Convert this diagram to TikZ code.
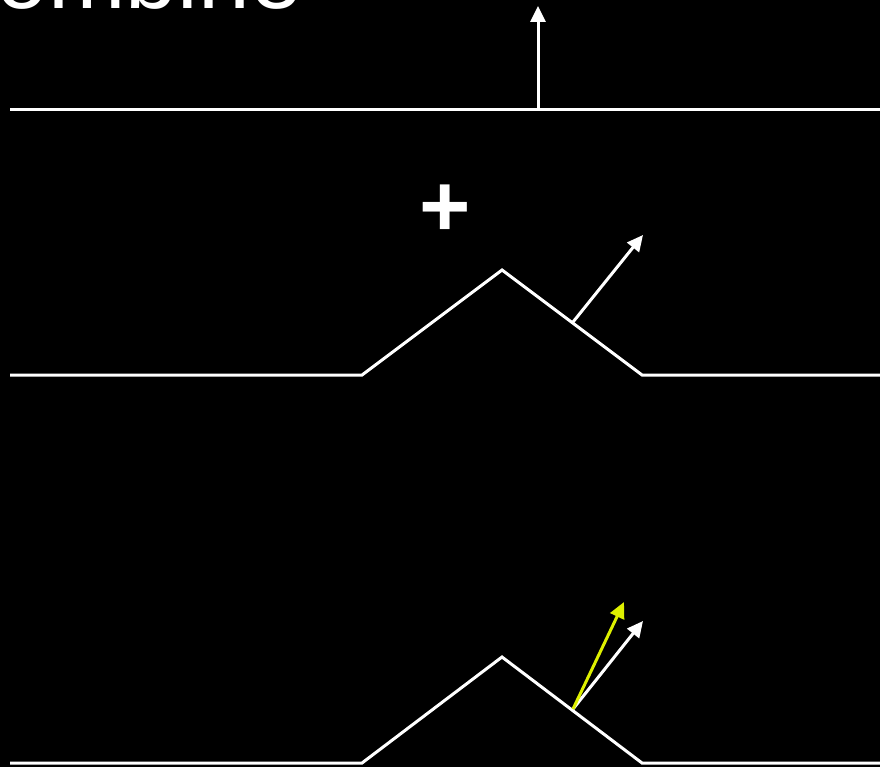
\documentclass[tikz,border=0pt]{standalone}
\usepackage{fontspec}
\setmainfont{Liberation Sans}
\usetikzlibrary{arrows.meta}
\definecolor{hiyellow}{RGB}{222,240,0}
\tikzset{
  surface/.style={draw=white, line width=3pt, line join=miter},
  normalarrow/.style={draw=white, line width=3pt, -{Triangle[length=16pt,width=15pt]}},
  combinedarrow/.style={draw=hiyellow, line width=3pt, -{Triangle[length=16pt,width=15pt]}},
  label/.style={text=white, inner sep=0pt}
}
\begin{document}
\begin{tikzpicture}[x=1pt,y=-1pt]
\fill[black] (0,0) rectangle (880,767);
\useasboundingbox (0,0) rectangle (880,767);
\begin{scope}
\clip (0,0) rectangle (880,767);
\node[label, anchor=base east, font=\fontsize{93}{93}\selectfont] (title) at (302,9) {Combine};
\end{scope}
% top: flat surface with normal
\coordinate (t1) at (10,110);
\coordinate (t2) at (880,110);
\coordinate (tb) at (538,110);
\coordinate (tt) at (538,6);
\draw[surface] (t1) -- (t2);
\draw[normalarrow] (tb) -- (tt);
% plus sign
\node[label, font=\bfseries\fontsize{88}{88}\selectfont] (plus) at (445,211) {+};
% middle: bump with normal
\coordinate (m1) at (10,375);
\coordinate (m2) at (362,375);
\coordinate (m3) at (502,270);
\coordinate (m4) at (642,375);
\coordinate (m5) at (880,375);
\coordinate (mb) at (573,322);
\coordinate (mt) at (643,235);
\draw[surface] (m1) -- (m2) -- (m3) -- (m4) -- (m5);
\draw[normalarrow] (mb) -- (mt);
% bottom: bump with both normals
\coordinate (b1) at (10,763);
\coordinate (b2) at (362,763);
\coordinate (b3) at (502,657);
\coordinate (b4) at (642,763);
\coordinate (b5) at (880,763);
\coordinate (bb) at (573,709);
\coordinate (bt) at (643,621);
\coordinate (by) at (624,602);
\draw[surface] (b1) -- (b2) -- (b3) -- (b4) -- (b5);
\draw[normalarrow] (bb) -- (bt);
\draw[combinedarrow] (bb) -- (by);
\end{tikzpicture}
\end{document}
